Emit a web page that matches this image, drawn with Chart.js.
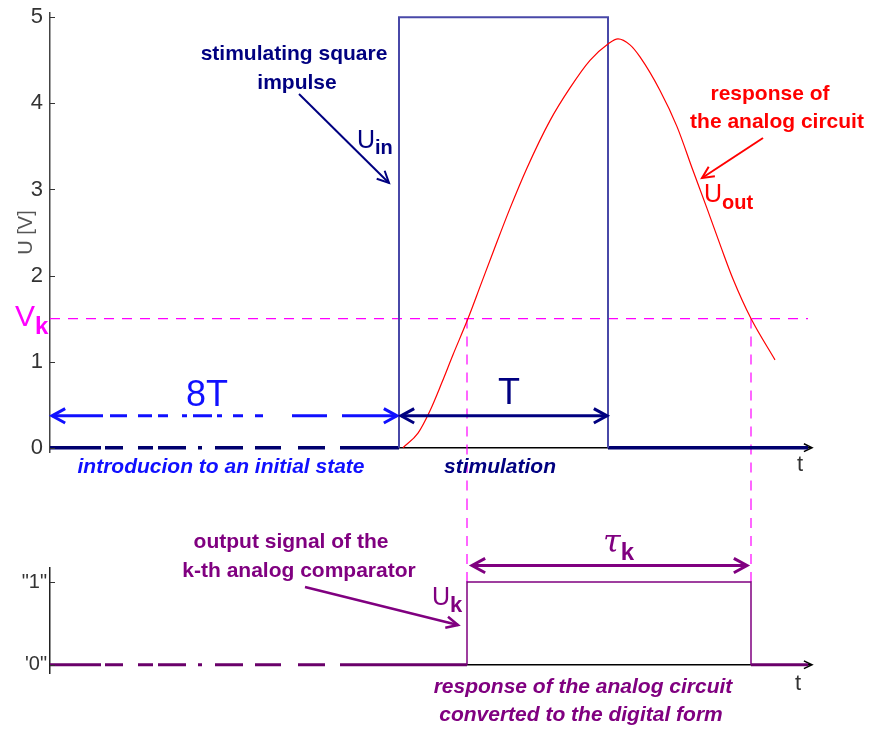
<!DOCTYPE html>
<html>
<head>
<meta charset="utf-8">
<script src="https://cdn.jsdelivr.net/npm/chart.js@4.4.1/dist/chart.umd.min.js"></script>
<style>
  html, body { margin: 0; padding: 0; background: #fff; }
  #wrap { position: relative; width: 874px; height: 732px; }
  #top { position: absolute; left: 0; top: 0; }
  #bottom { position: absolute; left: 0; top: 500px; }
</style>
</head>
<body>
<div id="wrap">
  <canvas id="top" width="874" height="500"></canvas>
  <canvas id="bottom" width="874" height="232"></canvas>
</div>
<script>
// tick labels
const voltTicks = [0, 1, 2, 3, 4, 5];
const digitalTicks = [0, 1];
const digitalLabels = ["'0\"", '"1"'];

// stimulating square impulse U_in (time in arbitrary units)
const inputT = [3.49, 3.49, 5.58, 5.58];
const inputU = [0, 5, 5, 0];
const tEnd = 7.58;

// response of the analog circuit U_out
const outT = [3.53, 3.68, 3.80, 3.92, 4.03, 4.18, 4.31, 4.44, 4.60, 4.77, 5.00, 5.20, 5.40,
              5.58, 5.68, 5.80, 5.90, 6.10, 6.27, 6.43, 6.57, 6.71, 6.83, 7.01, 7.25];
const outU = [0, 0.17, 0.43, 0.76, 1.08, 1.50, 1.90, 2.30, 2.78, 3.25, 3.80, 4.18, 4.50,
              4.69, 4.75, 4.68, 4.54, 4.15, 3.73, 3.22, 2.78, 2.33, 1.96, 1.50, 1.02];

// comparator threshold and crossings
const Vk = 1.5;
const crossT = [4.17, 7.01];

// digital output U_k
const digT = [4.17, 4.17, 7.01, 7.01];
const digU = [0, 1, 1, 0];

const FONT = '"Liberation Sans", Arial, sans-serif';
const NAVY = '#000080';
const BLUE = '#1010ff';
const RED = '#ff0000';
const MAGENTA = '#ff00ff';
const PURPLE = '#800080';
const baseDash = [51, 4, 18, 15, 15, 5, 28, 12, 4, 13, 28, 12, 26, 17, 27, 15, 200];
const arrowDash = [51, 7, 17, 11, 14, 6, 10, 14, 5, 6, 19, 5, 5, 11, 10, 12, 8, 29, 35, 15, 80];

function xy(xs, ys) {
  return xs.map((x, i) => ({ x: x, y: ys[i] }));
}

function txt(ctx, s, x, y, font, color, align) {
  ctx.save();
  ctx.font = font;
  ctx.fillStyle = color;
  ctx.textAlign = align || 'center';
  ctx.textBaseline = 'middle';
  ctx.fillText(s, x, y);
  ctx.restore();
}

function subTxt(ctx, main, small, x, y, f1, f2, color, dy) {
  ctx.save();
  ctx.fillStyle = color;
  ctx.textAlign = 'left';
  ctx.textBaseline = 'middle';
  ctx.font = f1;
  ctx.fillText(main, x, y);
  const w = ctx.measureText(main).width;
  ctx.font = f2;
  ctx.fillText(small, x + w, y + dy);
  ctx.restore();
}

function chevron(ctx, x, y, angle, len, spread) {
  ctx.beginPath();
  ctx.moveTo(x - len * Math.cos(angle - spread), y - len * Math.sin(angle - spread));
  ctx.lineTo(x, y);
  ctx.lineTo(x - len * Math.cos(angle + spread), y - len * Math.sin(angle + spread));
  ctx.stroke();
}

function hArrow(ctx, x1, x2, y, color, width, dash) {
  ctx.save();
  ctx.strokeStyle = color;
  ctx.lineWidth = width;
  ctx.setLineDash(dash || []);
  ctx.beginPath();
  ctx.moveTo(x1, y);
  ctx.lineTo(x2, y);
  ctx.stroke();
  ctx.setLineDash([]);
  chevron(ctx, x1, y, Math.PI, 15, 0.5);
  chevron(ctx, x2, y, 0, 15, 0.5);
  ctx.restore();
}

function pointer(ctx, x1, y1, x2, y2, color, width) {
  ctx.save();
  ctx.strokeStyle = color;
  ctx.lineWidth = width;
  ctx.beginPath();
  ctx.moveTo(x1, y1);
  ctx.lineTo(x2, y2);
  ctx.stroke();
  chevron(ctx, x2, y2, Math.atan2(y2 - y1, x2 - x1), 13, 0.45);
  ctx.restore();
}

function timeAxis(ctx, x1, x2, y) {
  ctx.save();
  ctx.strokeStyle = '#000';
  ctx.lineWidth = 1.5;
  ctx.beginPath();
  ctx.moveTo(x1, y);
  ctx.lineTo(x2, y);
  ctx.stroke();
  chevron(ctx, x2 + 1, y, 0, 9, 0.45);
  ctx.restore();
}

function tickMarks(ctx, scale, values, left) {
  ctx.save();
  ctx.strokeStyle = '#333';
  ctx.lineWidth = 1;
  values.forEach(v => {
    const p = Math.round(scale.getPixelForValue(v)) + 0.5;
    ctx.beginPath();
    ctx.moveTo(left, p);
    ctx.lineTo(left + 5, p);
    ctx.stroke();
  });
  ctx.restore();
}

// keep the plot box where the figure has it, labels may overhang
function fixAxis(s) {
  s.width = 50;
  s.paddingTop = 0;
  s.paddingBottom = 0;
}

const baseOptions = {
  responsive: false,
  devicePixelRatio: 1,
  animation: false,
  events: [],
  elements: { point: { radius: 0 }, line: { tension: 0 } },
  plugins: { legend: { display: false }, tooltip: { enabled: false } }
};

// ---------- upper chart: analog signals ----------
const topPlugin = {
  id: 'topNotes',
  beforeDatasetsDraw(chart) {
    const { ctx, scales: { x, y } } = chart;
    timeAxis(ctx, x.getPixelForValue(inputT[0]), x.getPixelForValue(tEnd) + 3, y.getPixelForValue(0));
  },
  afterDatasetsDraw(chart) {
    const { ctx, scales: { x, y }, chartArea } = chart;
    tickMarks(ctx, y, voltTicks, chartArea.left);

    const ay = y.getPixelForValue(0.37);
    hArrow(ctx, x.getPixelForValue(0) + 2, x.getPixelForValue(inputT[0]) - 2, ay, BLUE, 3, arrowDash);
    hArrow(ctx, x.getPixelForValue(inputT[0]) + 2, x.getPixelForValue(inputT[2]) - 1, ay, NAVY, 3);
    txt(ctx, '8T', 207, 396, '36px ' + FONT, BLUE);
    txt(ctx, 'T', 509, 394, '36px ' + FONT, NAVY);

    txt(ctx, 'stimulating square', 294, 54, 'bold 21px ' + FONT, NAVY);
    txt(ctx, 'impulse', 297, 83, 'bold 21px ' + FONT, NAVY);
    pointer(ctx, 299, 94, 389, 183, NAVY, 2);
    subTxt(ctx, 'U', 'in', 357, 141, '25px ' + FONT, 'bold 20px ' + FONT, NAVY, 7);

    txt(ctx, 'response of', 770, 94, 'bold 21px ' + FONT, RED);
    txt(ctx, 'the analog circuit', 777, 122, 'bold 21px ' + FONT, RED);
    pointer(ctx, 763, 138, 702, 178, RED, 2);
    subTxt(ctx, 'U', 'out', 704, 195, '25px ' + FONT, 'bold 20px ' + FONT, RED, 8);

    subTxt(ctx, 'V', 'k', 15, 318, '30px ' + FONT, 'bold 24px ' + FONT, MAGENTA, 9);

    txt(ctx, 'introducion to an initial state', 221, 467, 'italic bold 21px ' + FONT, BLUE);
    txt(ctx, 'stimulation', 500, 467, 'italic bold 21px ' + FONT, NAVY);
    txt(ctx, 't', 800, 465, '22px ' + FONT, '#333');
  }
};

new Chart(document.getElementById('top'), {
  type: 'line',
  data: {
    datasets: [
      { data: xy(outT, outU), borderColor: RED, borderWidth: 1.2, cubicInterpolationMode: 'monotone' },
      { data: xy(inputT, inputU), borderColor: '#4848a8', borderWidth: 2 },
      { data: xy([0, inputT[0]], [0, 0]), borderColor: '#00006e', borderWidth: 3.5, borderDash: baseDash },
      { data: xy([inputT[3], tEnd], [0, 0]), borderColor: '#00006e', borderWidth: 3.5 },
      { data: xy([0, tEnd], [Vk, Vk]), borderColor: MAGENTA, borderWidth: 1.2, borderDash: [10, 8] },
      { data: xy([crossT[0], crossT[0]], [Vk, -0.75]), borderColor: MAGENTA, borderWidth: 1.2, borderDash: [10, 8], clip: false },
      { data: xy([crossT[1], crossT[1]], [Vk, -0.75]), borderColor: MAGENTA, borderWidth: 1.2, borderDash: [10, 8], clip: false }
    ]
  },
  options: {
    ...baseOptions,
    layout: { padding: { left: 0, top: 13, right: 63, bottom: 48 } },
    scales: {
      x: { type: 'linear', min: 0, max: 7.61, display: false },
      y: {
        min: -0.05, max: 5.05,
        afterBuildTicks: s => { s.ticks = voltTicks.map(v => ({ value: v })); },
        afterFit: fixAxis,
        ticks: { color: '#333', font: { family: FONT, size: 22 }, padding: 7 },
        grid: { display: false, drawTicks: false },
        border: { display: true, color: '#444', width: 1.5 },
        title: { display: true, text: 'U [V]', color: '#555', font: { family: FONT, size: 20 }, padding: { top: 14, bottom: 0 } }
      }
    }
  },
  plugins: [topPlugin]
});

// ---------- lower chart: comparator output ----------
const bottomPlugin = {
  id: 'bottomNotes',
  beforeDatasetsDraw(chart) {
    const { ctx, scales: { x, y } } = chart;
    timeAxis(ctx, x.getPixelForValue(digT[0]), x.getPixelForValue(tEnd) + 3, y.getPixelForValue(0));
  },
  afterDatasetsDraw(chart) {
    const { ctx, scales: { x, y }, chartArea } = chart;
    tickMarks(ctx, y, digitalTicks, chartArea.left);

    hArrow(ctx, x.getPixelForValue(crossT[0]) + 5, x.getPixelForValue(crossT[1]) - 4, y.getPixelForValue(1.2), PURPLE, 3);
    subTxt(ctx, '\u03C4', 'k', 603, 44, 'italic 32px "DejaVu Serif", serif', 'bold 24px ' + FONT, PURPLE, 9);

    txt(ctx, 'output signal of the', 291, 42, 'bold 21px ' + FONT, PURPLE);
    txt(ctx, 'k-th analog comparator', 299, 71, 'bold 21px ' + FONT, PURPLE);
    pointer(ctx, 305, 87, 458, 125, PURPLE, 2.5);
    subTxt(ctx, 'U', 'k', 432, 98, '25px ' + FONT, 'bold 22px ' + FONT, PURPLE, 8);

    txt(ctx, 'response of the analog circuit', 583, 187, 'italic bold 21px ' + FONT, PURPLE);
    txt(ctx, 'converted to the digital form', 581, 215, 'italic bold 21px ' + FONT, PURPLE);
    txt(ctx, 't', 798, 184, '22px ' + FONT, '#333');
  }
};

new Chart(document.getElementById('bottom'), {
  type: 'line',
  data: {
    datasets: [
      { data: xy(digT, digU), borderColor: PURPLE, borderWidth: 1.5 },
      { data: xy([0, digT[0]], [0, 0]), borderColor: '#6a006a', borderWidth: 3, borderDash: baseDash },
      { data: xy([digT[3], tEnd], [0, 0]), borderColor: '#6a006a', borderWidth: 3 },
      { data: xy([crossT[0], crossT[0]], [1, 2.2]), borderColor: MAGENTA, borderWidth: 1.2, borderDash: [10, 8], clip: false },
      { data: xy([crossT[1], crossT[1]], [1, 2.2]), borderColor: MAGENTA, borderWidth: 1.2, borderDash: [10, 8], clip: false }
    ]
  },
  options: {
    ...baseOptions,
    layout: { padding: { left: 0, top: 68, right: 63, bottom: 59 } },
    scales: {
      x: { type: 'linear', min: 0, max: 7.61, display: false },
      y: {
        min: -0.1, max: 1.17,
        afterBuildTicks: s => { s.ticks = digitalTicks.map(v => ({ value: v })); },
        afterFit: fixAxis,
        ticks: {
          color: '#333', font: { family: FONT, size: 20 }, padding: 3,
          callback: (v) => digitalLabels[digitalTicks.indexOf(v)]
        },
        grid: { display: false, drawTicks: false },
        border: { display: true, color: '#222', width: 1.5 }
      }
    }
  },
  plugins: [bottomPlugin]
});
</script>
</body>
</html>
